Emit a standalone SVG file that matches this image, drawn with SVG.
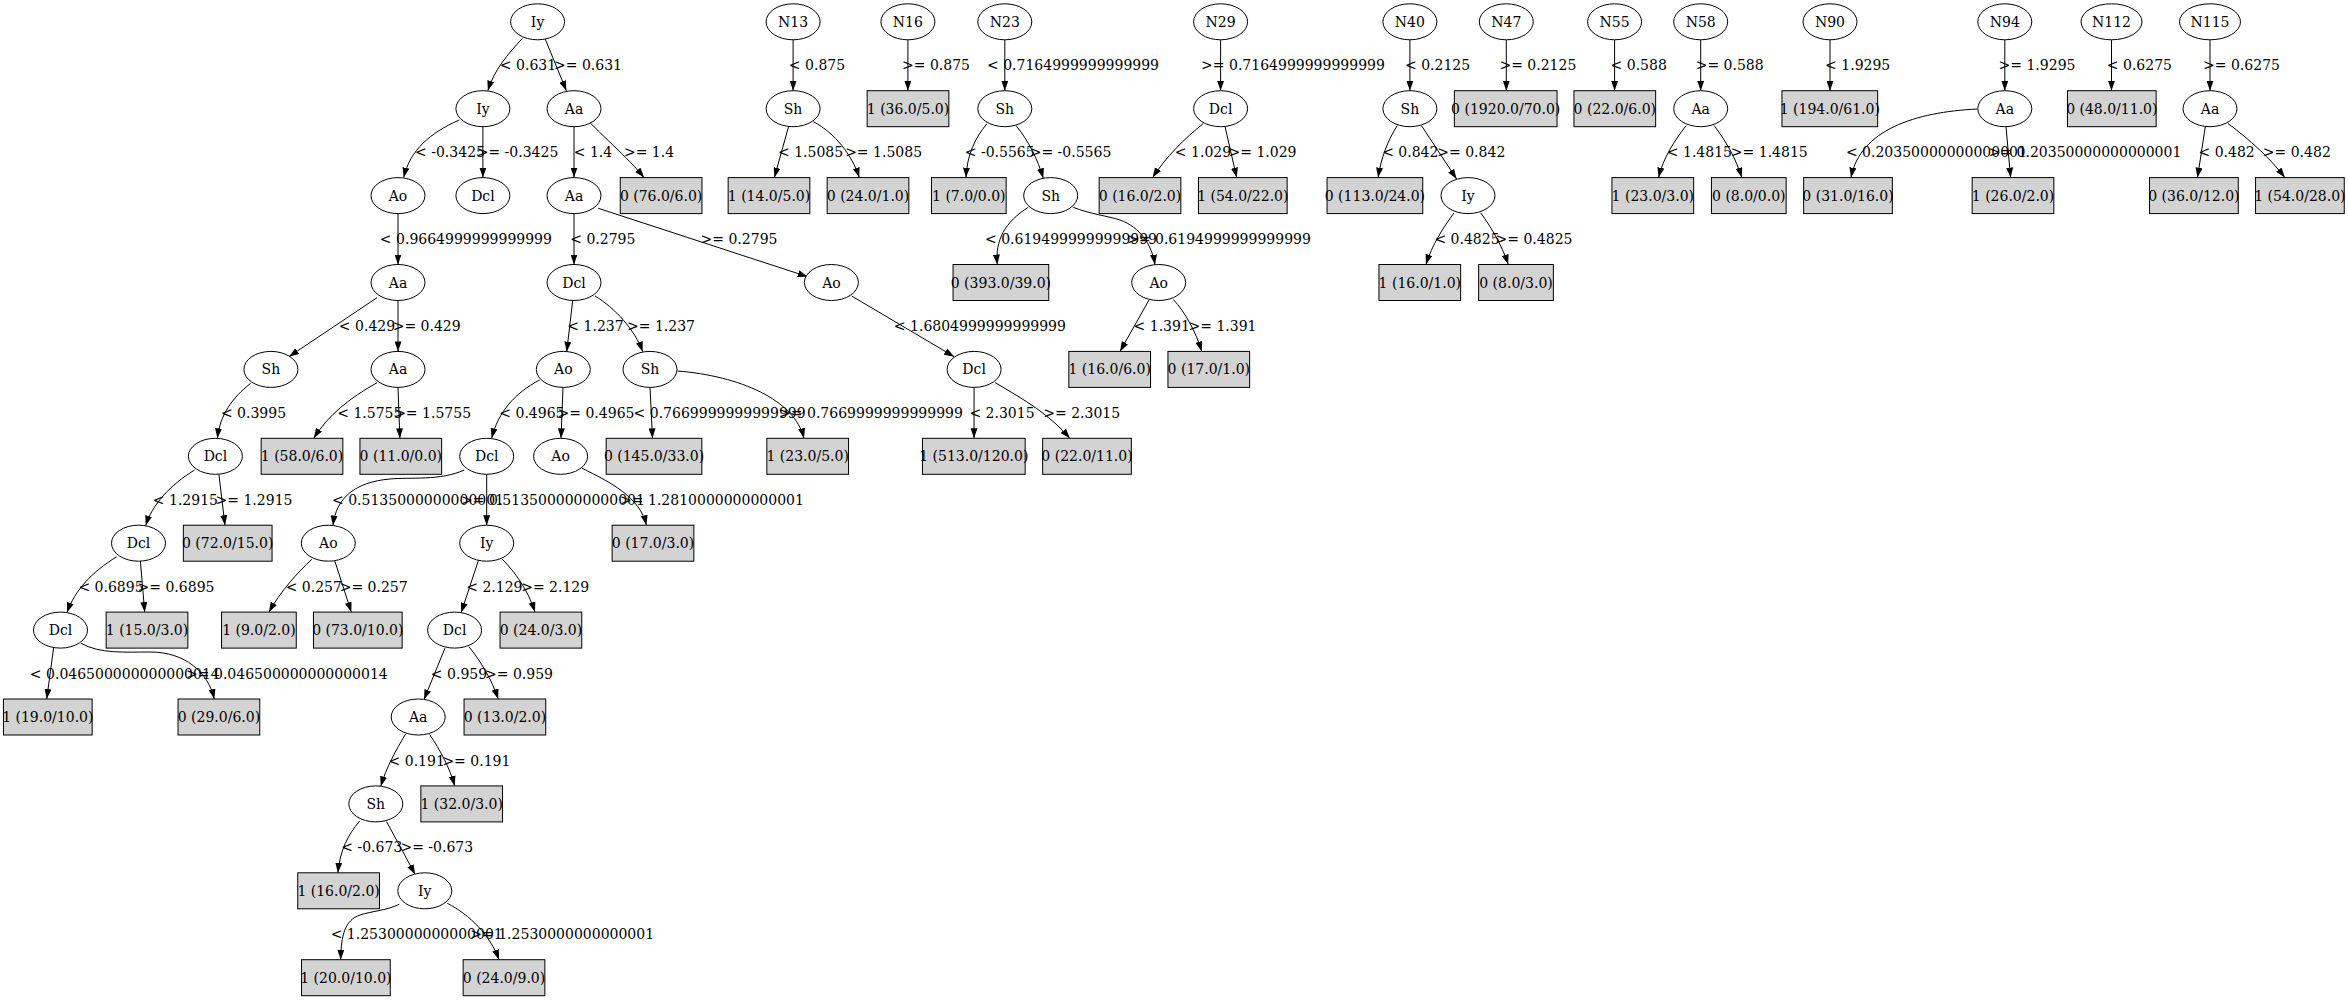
<svg xmlns="http://www.w3.org/2000/svg" width="2348" height="1001" viewBox="0 0 2348 1001">
<style>
text{font-family:"DejaVu Serif","Liberation Serif",serif;font-size:14px;text-anchor:middle;fill:#000}
.node ellipse{fill:#fff;stroke:#000;stroke-width:1}
.leaf rect{fill:#d3d3d3;stroke:#000;stroke-width:1}
#edges path{fill:none;stroke:#000;stroke-width:1;marker-end:url(#ah)}
</style>
<defs>
<marker id="ah" markerWidth="10" markerHeight="7" refX="10" refY="3.5" orient="auto" markerUnits="userSpaceOnUse"><path d="M0,0 L10,3.5 L0,7 z" fill="#000"/></marker>
</defs>
<rect x="0" y="0" width="2348" height="1001" fill="#fff"/>
<g id="edges">
<path d="M522.4,38.3 C508,54 494,70 487.9,90.7"/>
<path d="M545.3,39.3 L566.4,90.7"/>
<path d="M459.2,120 C430,133 410,150 403.7,177.6"/>
<path d="M482.9,126.7 L482.9,177.6"/>
<path d="M574,126.7 L574,177.6"/>
<path d="M590.7,123.3 C612,145 630,160 644,177.6"/>
<path d="M398,213.6 L398,264.5"/>
<path d="M574,213.6 L574,264.5"/>
<path d="M598.3,208.3 L807.7,276.7"/>
<path d="M377,297.7 L288.9,356.7"/>
<path d="M398,300.5 L398,351.4"/>
<path d="M572.7,300.7 L566.7,351.7"/>
<path d="M595,296 C615,308 635,330 642.7,351.7"/>
<path d="M851.7,296 L954.2,356.7"/>
<path d="M250.6,383.3 C232,398 220,415 217.4,438.3"/>
<path d="M377,382.7 C350,398 328,415 313.8,438.3"/>
<path d="M398,387.4 L399.9,438.3"/>
<path d="M539.6,380 C515,393 498,412 491.7,438.3"/>
<path d="M563,387.4 L561,438.3"/>
<path d="M650,387.4 L652.5,438.3"/>
<path d="M677.6,371 C740,376 795,400 803.9,438.3"/>
<path d="M974.1,387.4 L974,438.3"/>
<path d="M995.2,382.7 C1025,400 1050,415 1069.8,438.3"/>
<path d="M194.6,470 C170,485 152,505 145.7,525.6"/>
<path d="M218.9,474.3 L225,525.2"/>
<path d="M464.3,470 C440,481 410,477 390,479 C355,482 336,498 333,525.5"/>
<path d="M486.7,474.3 L486.7,525.2"/>
<path d="M582.1,468.3 C610,482 640,497 646.4,525.2"/>
<path d="M116.7,556.7 C92,572 75,590 67,612.5"/>
<path d="M140.4,561.2 L144.7,612.1"/>
<path d="M311.9,559.3 C298,572 280,592 269,612.1"/>
<path d="M334.8,561 L351.3,612.1"/>
<path d="M478.4,560.5 L461.1,612.8"/>
<path d="M502.1,559 C515,572 528,590 535,612.1"/>
<path d="M53.6,648 L46.7,699"/>
<path d="M81.1,643.3 C100,654 125,652 150,652 C185,652 208,672 214.3,699"/>
<path d="M445,648 L424,699.5"/>
<path d="M468.8,646.7 C480,660 492,680 498.2,699"/>
<path d="M405.6,734 C396,750 386,768 380.8,786.3"/>
<path d="M429.7,734.5 C440,750 450,768 454.6,785.9"/>
<path d="M359.7,821 C348,835 340,850 337.9,872.8"/>
<path d="M386.5,821.5 L415.2,874.5"/>
<path d="M399.3,904.3 C385,911 372,911 360,915 C345,920 341,935 340.7,959.7"/>
<path d="M447.3,903.3 C470,915 490,935 499,959.7"/>
<path d="M793.1,39.8 L793.1,90.7"/>
<path d="M788.5,126.7 L774.4,177.6"/>
<path d="M813.4,121.7 C835,133 852,155 859.3,177.6"/>
<path d="M907.9,39.8 L907.9,90.7"/>
<path d="M1004.8,39.8 L1004.8,90.7"/>
<path d="M986.7,124 C975,138 967,155 966,177.6"/>
<path d="M1016,125.5 C1028,140 1038,160 1043.3,178.3"/>
<path d="M1028.3,207.3 C1005,222 995,240 997.3,264.5"/>
<path d="M1073.3,207.3 C1090,214 1108,216 1120,220 C1140,227 1152,245 1155,264.7"/>
<path d="M1149.3,299.5 L1120,351.4"/>
<path d="M1173.3,299.5 C1185,312 1196,332 1201.7,351.4"/>
<path d="M1220.6,39.8 L1220.6,90.7"/>
<path d="M1203.3,123.5 C1185,138 1165,158 1152.7,177.6"/>
<path d="M1225,126.5 L1236.7,177.6"/>
<path d="M1409.9,39.8 L1409.9,90.7"/>
<path d="M1397.3,125.5 C1388,140 1381,158 1378.1,177.6"/>
<path d="M1421.4,125.5 L1456.6,179"/>
<path d="M1453.9,213 C1443,228 1432,245 1426,264.5"/>
<path d="M1480.7,213 C1492,228 1503,248 1508.2,264.5"/>
<path d="M1506.3,39.8 L1506.3,90.7"/>
<path d="M1614.6,39.8 L1614.6,90.7"/>
<path d="M1700.7,39.8 L1700.7,90.7"/>
<path d="M1686.2,125.5 C1675,140 1663,158 1658.6,177.6"/>
<path d="M1714.1,125.5 C1725,140 1736,158 1741.7,177.6"/>
<path d="M1830,39.8 L1830,90.7"/>
<path d="M2004.8,39.8 L2004.8,90.7"/>
<path d="M1977.5,109 C1915,112 1860,130 1851,177.6"/>
<path d="M2006,126.7 L2010.6,177.6"/>
<path d="M2111.5,39.8 L2111.5,90.7"/>
<path d="M2210,39.8 L2210,90.7"/>
<path d="M2205.3,126.7 L2197.5,177.6"/>
<path d="M2227.8,123.3 C2250,140 2270,158 2284.8,177.6"/>
</g>
<g id="edge-labels">
<text x="528" y="70.3">&lt; 0.631</text>
<text x="588" y="70.3">&gt;= 0.631</text>
<text x="817" y="70.3">&lt; 0.875</text>
<text x="936" y="70.3">&gt;= 0.875</text>
<text x="1073" y="70.3">&lt; 0.7164999999999999</text>
<text x="1293" y="70.3">&gt;= 0.7164999999999999</text>
<text x="1437.6" y="70.3">&lt; 0.2125</text>
<text x="1537.9" y="70.3">&gt;= 0.2125</text>
<text x="1638.7" y="70.3">&lt; 0.588</text>
<text x="1729.7" y="70.3">&gt;= 0.588</text>
<text x="1857.7" y="70.3">&lt; 1.9295</text>
<text x="2037" y="70.3">&gt;= 1.9295</text>
<text x="2139.4" y="70.3">&lt; 0.6275</text>
<text x="2241.5" y="70.3">&gt;= 0.6275</text>
<text x="450" y="157.2">&lt; -0.3425</text>
<text x="517.5" y="157.2">&gt;= -0.3425</text>
<text x="593" y="157.2">&lt; 1.4</text>
<text x="649" y="157.2">&gt;= 1.4</text>
<text x="810.6" y="157.2">&lt; 1.5085</text>
<text x="883.6" y="157.2">&gt;= 1.5085</text>
<text x="999.7" y="157.2">&lt; -0.5565</text>
<text x="1070.5" y="157.2">&gt;= -0.5565</text>
<text x="1203" y="157.2">&lt; 1.029</text>
<text x="1262.5" y="157.2">&gt;= 1.029</text>
<text x="1410.3" y="157.2">&lt; 0.842</text>
<text x="1471.3" y="157.2">&gt;= 0.842</text>
<text x="1699.4" y="157.2">&lt; 1.4815</text>
<text x="1769.3" y="157.2">&gt;= 1.4815</text>
<text x="1936.4" y="157.2">&lt; 0.20350000000000001</text>
<text x="2085" y="157.2">&gt;= 0.20350000000000001</text>
<text x="2226.6" y="157.2">&lt; 0.482</text>
<text x="2296.8" y="157.2">&gt;= 0.482</text>
<text x="465.9" y="244.1">&lt; 0.9664999999999999</text>
<text x="602.8" y="244.1">&lt; 0.2795</text>
<text x="739" y="244.1">&gt;= 0.2795</text>
<text x="1071" y="244.1">&lt; 0.6194999999999999</text>
<text x="1219" y="244.1">&gt;= 0.6194999999999999</text>
<text x="1467" y="244.1">&lt; 0.4825</text>
<text x="1534" y="244.1">&gt;= 0.4825</text>
<text x="367" y="331">&lt; 0.429</text>
<text x="426.7" y="331">&gt;= 0.429</text>
<text x="595.5" y="331">&lt; 1.237</text>
<text x="661" y="331">&gt;= 1.237</text>
<text x="979.9" y="331">&lt; 1.6804999999999999</text>
<text x="1161.7" y="331">&lt; 1.391</text>
<text x="1222.5" y="331">&gt;= 1.391</text>
<text x="253.5" y="417.9">&lt; 0.3995</text>
<text x="369.8" y="417.9">&lt; 1.5755</text>
<text x="432.6" y="417.9">&gt;= 1.5755</text>
<text x="531.9" y="417.9">&lt; 0.4965</text>
<text x="596" y="417.9">&gt;= 0.4965</text>
<text x="719.6" y="417.9">&lt; 0.7669999999999999</text>
<text x="871" y="417.9">&gt;= 0.7669999999999999</text>
<text x="1002" y="417.9">&lt; 2.3015</text>
<text x="1081.7" y="417.9">&gt;= 2.3015</text>
<text x="185.4" y="504.8">&lt; 1.2915</text>
<text x="254" y="504.8">&gt;= 1.2915</text>
<text x="418" y="504.8">&lt; 0.5135000000000001</text>
<text x="553" y="504.8">&gt;= 0.5135000000000001</text>
<text x="712" y="504.8">&gt;= 1.2810000000000001</text>
<text x="111" y="591.7">&lt; 0.6895</text>
<text x="176" y="591.7">&gt;= 0.6895</text>
<text x="313.8" y="591.7">&lt; 0.257</text>
<text x="373.7" y="591.7">&gt;= 0.257</text>
<text x="494.4" y="591.7">&lt; 2.129</text>
<text x="555.2" y="591.7">&gt;= 2.129</text>
<text x="124.8" y="678.6">&lt; 0.046500000000000014</text>
<text x="286.9" y="678.6">&gt;= 0.046500000000000014</text>
<text x="459" y="678.6">&lt; 0.959</text>
<text x="519" y="678.6">&gt;= 0.959</text>
<text x="416.7" y="765.5">&lt; 0.191</text>
<text x="476.4" y="765.5">&gt;= 0.191</text>
<text x="371.8" y="852.4">&lt; -0.673</text>
<text x="436.8" y="852.4">&gt;= -0.673</text>
<text x="416.7" y="939.3">&lt; 1.2530000000000001</text>
<text x="562.2" y="939.3">&gt;= 1.2530000000000001</text>
</g>
<g id="n0" class="node"><ellipse cx="537.6" cy="21.8" rx="27" ry="18"/><text x="537.6" y="26.8">Iy</text></g>
<g id="n1" class="node"><ellipse cx="482.9" cy="108.7" rx="27" ry="18"/><text x="482.9" y="113.7">Iy</text></g>
<g id="n2" class="node"><ellipse cx="574" cy="108.7" rx="27" ry="18"/><text x="574" y="113.7">Aa</text></g>
<g id="n3" class="node"><ellipse cx="398" cy="195.6" rx="27" ry="18"/><text x="398" y="200.6">Ao</text></g>
<g id="n4" class="node"><ellipse cx="482.9" cy="195.6" rx="27" ry="18"/><text x="482.9" y="200.6">Dcl</text></g>
<g id="n5" class="node"><ellipse cx="574" cy="195.6" rx="27" ry="18"/><text x="574" y="200.6">Aa</text></g>
<g id="n6" class="leaf"><rect x="620.25" y="177.6" width="81.7" height="36"/><text x="661.1" y="200.6">0 (76.0/6.0)</text></g>
<g id="n7" class="node"><ellipse cx="398" cy="282.5" rx="27" ry="18"/><text x="398" y="287.5">Aa</text></g>
<g id="n8" class="node"><ellipse cx="574" cy="282.5" rx="27" ry="18"/><text x="574" y="287.5">Dcl</text></g>
<g id="n9" class="node"><ellipse cx="831.4" cy="282.5" rx="27" ry="18"/><text x="831.4" y="287.5">Ao</text></g>
<g id="n10" class="node"><ellipse cx="270.9" cy="369.4" rx="27" ry="18"/><text x="270.9" y="374.4">Sh</text></g>
<g id="n11" class="node"><ellipse cx="398" cy="369.4" rx="27" ry="18"/><text x="398" y="374.4">Aa</text></g>
<g id="n12" class="node"><ellipse cx="563.3" cy="369.4" rx="27" ry="18"/><text x="563.3" y="374.4">Ao</text></g>
<g id="n13" class="node"><ellipse cx="650" cy="369.4" rx="27" ry="18"/><text x="650" y="374.4">Sh</text></g>
<g id="n14" class="node"><ellipse cx="974.1" cy="369.4" rx="27" ry="18"/><text x="974.1" y="374.4">Dcl</text></g>
<g id="n15" class="node"><ellipse cx="215.4" cy="456.3" rx="27" ry="18"/><text x="215.4" y="461.3">Dcl</text></g>
<g id="n16" class="leaf"><rect x="261.15" y="438.3" width="81.7" height="36"/><text x="302" y="461.3">1 (58.0/6.0)</text></g>
<g id="n17" class="leaf"><rect x="359.95" y="438.3" width="81.7" height="36"/><text x="400.8" y="461.3">0 (11.0/0.0)</text></g>
<g id="n18" class="node"><ellipse cx="486.7" cy="456.3" rx="27" ry="18"/><text x="486.7" y="461.3">Dcl</text></g>
<g id="n19" class="node"><ellipse cx="560.6" cy="456.3" rx="27" ry="18"/><text x="560.6" y="461.3">Ao</text></g>
<g id="n20" class="leaf"><rect x="606.15" y="438.3" width="95.7" height="36"/><text x="654" y="461.3">0 (145.0/33.0)</text></g>
<g id="n21" class="leaf"><rect x="766.85" y="438.3" width="81.7" height="36"/><text x="807.7" y="461.3">1 (23.0/5.0)</text></g>
<g id="n22" class="leaf"><rect x="922.45" y="438.3" width="102.7" height="36"/><text x="973.8" y="461.3">1 (513.0/120.0)</text></g>
<g id="n23" class="leaf"><rect x="1042.65" y="438.3" width="88.7" height="36"/><text x="1087" y="461.3">0 (22.0/11.0)</text></g>
<g id="n24" class="node"><ellipse cx="138.5" cy="543.2" rx="27" ry="18"/><text x="138.5" y="548.2">Dcl</text></g>
<g id="n25" class="leaf"><rect x="183.35" y="525.2" width="88.7" height="36"/><text x="227.7" y="548.2">0 (72.0/15.0)</text></g>
<g id="n26" class="node"><ellipse cx="328.3" cy="543.2" rx="27" ry="18"/><text x="328.3" y="548.2">Ao</text></g>
<g id="n27" class="node"><ellipse cx="486.7" cy="543.2" rx="27" ry="18"/><text x="486.7" y="548.2">Iy</text></g>
<g id="n28" class="leaf"><rect x="612.15" y="525.2" width="81.7" height="36"/><text x="653" y="548.2">0 (17.0/3.0)</text></g>
<g id="n29" class="node"><ellipse cx="60.5" cy="630.1" rx="27" ry="18"/><text x="60.5" y="635.1">Dcl</text></g>
<g id="n30" class="leaf"><rect x="106.15" y="612.1" width="81.7" height="36"/><text x="147" y="635.1">1 (15.0/3.0)</text></g>
<g id="n31" class="leaf"><rect x="221.55" y="612.1" width="74.7" height="36"/><text x="258.9" y="635.1">1 (9.0/2.0)</text></g>
<g id="n32" class="leaf"><rect x="313.45" y="612.1" width="88.7" height="36"/><text x="357.8" y="635.1">0 (73.0/10.0)</text></g>
<g id="n33" class="node"><ellipse cx="454.6" cy="630.1" rx="27" ry="18"/><text x="454.6" y="635.1">Dcl</text></g>
<g id="n34" class="leaf"><rect x="500.05" y="612.1" width="81.7" height="36"/><text x="540.9" y="635.1">0 (24.0/3.0)</text></g>
<g id="n35" class="leaf"><rect x="3.45" y="699" width="88.7" height="36"/><text x="47.8" y="722">1 (19.0/10.0)</text></g>
<g id="n36" class="leaf"><rect x="178.05" y="699" width="81.7" height="36"/><text x="218.9" y="722">0 (29.0/6.0)</text></g>
<g id="n37" class="node"><ellipse cx="418.2" cy="717" rx="27" ry="18"/><text x="418.2" y="722">Aa</text></g>
<g id="n38" class="leaf"><rect x="464.05" y="699" width="81.7" height="36"/><text x="504.9" y="722">0 (13.0/2.0)</text></g>
<g id="n39" class="node"><ellipse cx="375.8" cy="803.9" rx="27" ry="18"/><text x="375.8" y="808.9">Sh</text></g>
<g id="n40" class="leaf"><rect x="420.85" y="785.9" width="81.7" height="36"/><text x="461.7" y="808.9">1 (32.0/3.0)</text></g>
<g id="n41" class="leaf"><rect x="297.75" y="872.8" width="81.7" height="36"/><text x="338.6" y="895.8">1 (16.0/2.0)</text></g>
<g id="n42" class="node"><ellipse cx="424.8" cy="890.8" rx="27" ry="18"/><text x="424.8" y="895.8">Iy</text></g>
<g id="n43" class="leaf"><rect x="301.55" y="959.7" width="88.7" height="36"/><text x="345.9" y="982.7">1 (20.0/10.0)</text></g>
<g id="n44" class="leaf"><rect x="463.15" y="959.7" width="81.7" height="36"/><text x="504" y="982.7">0 (24.0/9.0)</text></g>
<g id="N13" class="node"><ellipse cx="793.1" cy="21.8" rx="27" ry="18"/><text x="793.1" y="26.8">N13</text></g>
<g id="N13_sh" class="node"><ellipse cx="793.1" cy="108.7" rx="27" ry="18"/><text x="793.1" y="113.7">Sh</text></g>
<g id="b1" class="leaf"><rect x="728.15" y="177.6" width="81.7" height="36"/><text x="769" y="200.6">1 (14.0/5.0)</text></g>
<g id="b2" class="leaf"><rect x="827.15" y="177.6" width="81.7" height="36"/><text x="868" y="200.6">0 (24.0/1.0)</text></g>
<g id="N16" class="node"><ellipse cx="907.9" cy="21.8" rx="27" ry="18"/><text x="907.9" y="26.8">N16</text></g>
<g id="b3" class="leaf"><rect x="867.15" y="90.7" width="81.7" height="36"/><text x="908" y="113.7">1 (36.0/5.0)</text></g>
<g id="N23" class="node"><ellipse cx="1004.8" cy="21.8" rx="27" ry="18"/><text x="1004.8" y="26.8">N23</text></g>
<g id="N23_sh" class="node"><ellipse cx="1004.8" cy="108.7" rx="27" ry="18"/><text x="1004.8" y="113.7">Sh</text></g>
<g id="b4" class="leaf"><rect x="931.45" y="177.6" width="74.7" height="36"/><text x="968.8" y="200.6">1 (7.0/0.0)</text></g>
<g id="N23_sh2" class="node"><ellipse cx="1050.7" cy="195.6" rx="27" ry="18"/><text x="1050.7" y="200.6">Sh</text></g>
<g id="b5" class="leaf"><rect x="953.05" y="264.5" width="95.7" height="36"/><text x="1000.9" y="287.5">0 (393.0/39.0)</text></g>
<g id="N23_ao" class="node"><ellipse cx="1158.7" cy="282.5" rx="27" ry="18"/><text x="1158.7" y="287.5">Ao</text></g>
<g id="b6" class="leaf"><rect x="1068.85" y="351.4" width="81.7" height="36"/><text x="1109.7" y="374.4">1 (16.0/6.0)</text></g>
<g id="b7" class="leaf"><rect x="1167.95" y="351.4" width="81.7" height="36"/><text x="1208.8" y="374.4">0 (17.0/1.0)</text></g>
<g id="N29" class="node"><ellipse cx="1220.6" cy="21.8" rx="27" ry="18"/><text x="1220.6" y="26.8">N29</text></g>
<g id="N29_dcl" class="node"><ellipse cx="1220.6" cy="108.7" rx="27" ry="18"/><text x="1220.6" y="113.7">Dcl</text></g>
<g id="b8" class="leaf"><rect x="1099.15" y="177.6" width="81.7" height="36"/><text x="1140" y="200.6">0 (16.0/2.0)</text></g>
<g id="b9" class="leaf"><rect x="1198.45" y="177.6" width="88.7" height="36"/><text x="1242.8" y="200.6">1 (54.0/22.0)</text></g>
<g id="N40" class="node"><ellipse cx="1409.9" cy="21.8" rx="27" ry="18"/><text x="1409.9" y="26.8">N40</text></g>
<g id="N40_sh" class="node"><ellipse cx="1409.9" cy="108.7" rx="27" ry="18"/><text x="1409.9" y="113.7">Sh</text></g>
<g id="b10" class="leaf"><rect x="1327.05" y="177.6" width="95.7" height="36"/><text x="1374.9" y="200.6">0 (113.0/24.0)</text></g>
<g id="N40_iy" class="node"><ellipse cx="1468" cy="195.6" rx="27" ry="18"/><text x="1468" y="200.6">Iy</text></g>
<g id="b11" class="leaf"><rect x="1378.95" y="264.5" width="81.7" height="36"/><text x="1419.8" y="287.5">1 (16.0/1.0)</text></g>
<g id="b12" class="leaf"><rect x="1478.65" y="264.5" width="74.7" height="36"/><text x="1516" y="287.5">0 (8.0/3.0)</text></g>
<g id="N47" class="node"><ellipse cx="1506.3" cy="21.8" rx="27" ry="18"/><text x="1506.3" y="26.8">N47</text></g>
<g id="b13" class="leaf"><rect x="1454.35" y="90.7" width="102.7" height="36"/><text x="1505.7" y="113.7">0 (1920.0/70.0)</text></g>
<g id="N55" class="node"><ellipse cx="1614.6" cy="21.8" rx="27" ry="18"/><text x="1614.6" y="26.8">N55</text></g>
<g id="b14" class="leaf"><rect x="1573.95" y="90.7" width="81.7" height="36"/><text x="1614.8" y="113.7">0 (22.0/6.0)</text></g>
<g id="N58" class="node"><ellipse cx="1700.7" cy="21.8" rx="27" ry="18"/><text x="1700.7" y="26.8">N58</text></g>
<g id="N58_aa" class="node"><ellipse cx="1700.7" cy="108.7" rx="27" ry="18"/><text x="1700.7" y="113.7">Aa</text></g>
<g id="b15" class="leaf"><rect x="1611.95" y="177.6" width="81.7" height="36"/><text x="1652.8" y="200.6">1 (23.0/3.0)</text></g>
<g id="b16" class="leaf"><rect x="1711.45" y="177.6" width="74.7" height="36"/><text x="1748.8" y="200.6">0 (8.0/0.0)</text></g>
<g id="N90" class="node"><ellipse cx="1830" cy="21.8" rx="27" ry="18"/><text x="1830" y="26.8">N90</text></g>
<g id="b17" class="leaf"><rect x="1781.95" y="90.7" width="95.7" height="36"/><text x="1829.8" y="113.7">1 (194.0/61.0)</text></g>
<g id="N94" class="node"><ellipse cx="2004.8" cy="21.8" rx="27" ry="18"/><text x="2004.8" y="26.8">N94</text></g>
<g id="N94_aa" class="node"><ellipse cx="2004.8" cy="108.7" rx="27" ry="18"/><text x="2004.8" y="113.7">Aa</text></g>
<g id="b18" class="leaf"><rect x="1803.65" y="177.6" width="88.7" height="36"/><text x="1848" y="200.6">0 (31.0/16.0)</text></g>
<g id="b19" class="leaf"><rect x="1972.15" y="177.6" width="81.7" height="36"/><text x="2013" y="200.6">1 (26.0/2.0)</text></g>
<g id="N112" class="node"><ellipse cx="2111.5" cy="21.8" rx="30.5" ry="18"/><text x="2111.5" y="26.8">N112</text></g>
<g id="b20" class="leaf"><rect x="2067.45" y="90.7" width="88.7" height="36"/><text x="2111.8" y="113.7">0 (48.0/11.0)</text></g>
<g id="N115" class="node"><ellipse cx="2210" cy="21.8" rx="30.5" ry="18"/><text x="2210" y="26.8">N115</text></g>
<g id="N115_aa" class="node"><ellipse cx="2210" cy="108.7" rx="27" ry="18"/><text x="2210" y="113.7">Aa</text></g>
<g id="b21" class="leaf"><rect x="2149.55" y="177.6" width="88.7" height="36"/><text x="2193.9" y="200.6">0 (36.0/12.0)</text></g>
<g id="b22" class="leaf"><rect x="2255.55" y="177.6" width="88.7" height="36"/><text x="2299.9" y="200.6">1 (54.0/28.0)</text></g>
</svg>
